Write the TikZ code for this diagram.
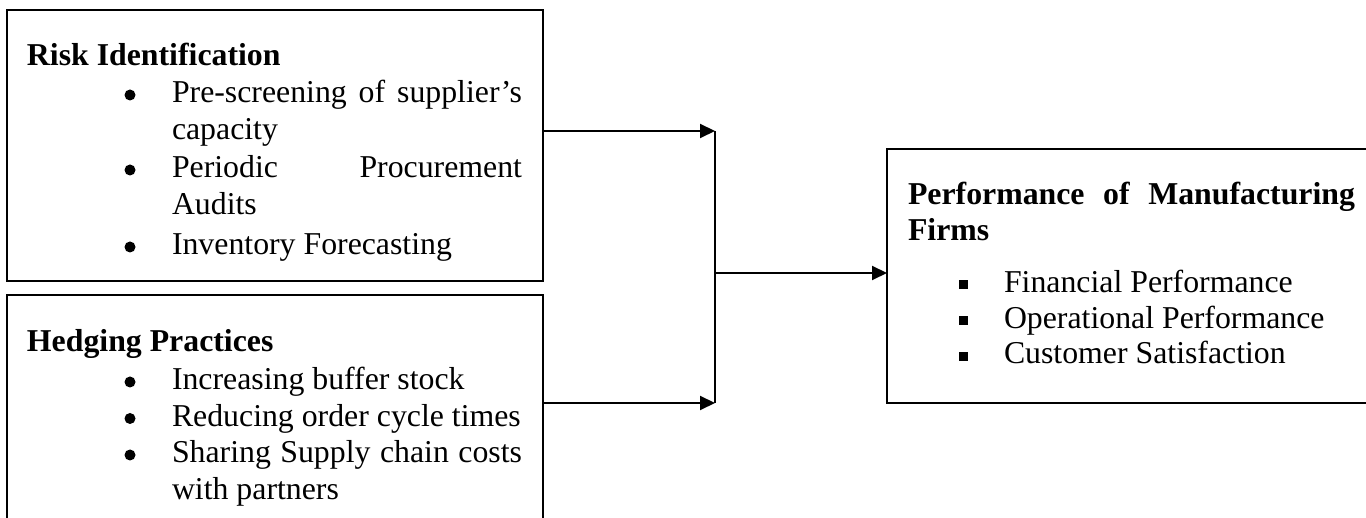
\documentclass[tikz,border=0pt]{standalone}
\usepackage{fontspec}
\setmainfont{Liberation Serif}
\usetikzlibrary{arrows.meta}
\tikzset{
  box/.style={draw, line width=2pt, rectangle, inner sep=0pt, outer sep=0pt, anchor=north west},
  txt/.style={anchor=base west, inner sep=0pt, outer sep=0pt, font=\fontsize{31.8}{36.6}\selectfont},
  hd/.style={txt, font=\fontsize{31.8}{36.6}\selectfont\bfseries},
  dot/.style={circle, fill=black, inner sep=0pt, minimum size=11pt},
  sq/.style={rectangle, fill=black, inner sep=0pt, minimum size=9pt},
  link/.style={line width=2pt},
  arr/.style={link, -{Triangle[length=15pt,width=14pt]}}
}
\begin{document}
\begin{tikzpicture}[x=1pt,y=-1pt]
\useasboundingbox (0,0) rectangle (1366,518);
\clip (0,0) rectangle (1366,518);
% boxes
\node[box, minimum width=536pt, minimum height=271pt] (risk) at (7,10) {};
\node[box, minimum width=536pt, minimum height=280pt] (hedge) at (7,295) {};
\node[box, minimum width=500pt, minimum height=254pt] (perf) at (887,149) {};
% Risk identification
\node[hd] (rh) at (27,66) {Risk Identification};
\node[dot] (rb1) at (130,95) {};
\node[txt] (r1a) at (172,103) {\hbox to 350pt{Pre-screening\hfill of\hfill supplier’s}};
\node[txt] (r1b) at (172,140) {capacity};
\node[dot] (rb2) at (130,170) {};
\node[txt] (r2a) at (172,178) {\hbox to 350pt{Periodic\hfill Procurement}};
\node[txt] (r2b) at (172,215) {Audits};
\node[dot] (rb3) at (130,247) {};
\node[txt] (r3) at (172,255) {Inventory Forecasting};
% Hedging practices
\node[hd] (hh) at (27,352) {Hedging Practices};
\node[dot] (hb1) at (130,382) {};
\node[txt] (h1) at (172,390) {Increasing buffer stock};
\node[dot] (hb2) at (130,418.5) {};
\node[txt] (h2) at (172,426.5) {Reducing order cycle times};
\node[dot] (hb3) at (130,455) {};
\node[txt] (h3a) at (172,463) {\hbox to 350pt{Sharing\hfill Supply\hfill chain\hfill costs}};
\node[txt] (h3b) at (172,500) {with partners};
% Performance
\node[hd] (ph1) at (908,205) {\hbox to 447pt{Performance\hfill of\hfill Manufacturing}};
\node[hd] (ph2) at (908,241) {Firms};
\node[sq] (pb1) at (963,285) {};
\node[txt] (p1) at (1004,293) {Financial Performance};
\node[sq] (pb2) at (963,321) {};
\node[txt] (p2) at (1004,329) {Operational Performance};
\node[sq] (pb3) at (963,356.5) {};
\node[txt] (p3) at (1004,364) {Customer Satisfaction};
% connectors
\coordinate (j1) at (715,131);
\coordinate (j2) at (715,403);
\coordinate (jm) at (715,273);
\draw[arr] (risk.east |- j1) -- (j1);
\draw[arr] (hedge.east |- j2) -- (j2);
\draw[link] (j1) -- (j2);
\draw[arr] (jm) -- (perf.west |- jm);
\end{tikzpicture}
\end{document}
